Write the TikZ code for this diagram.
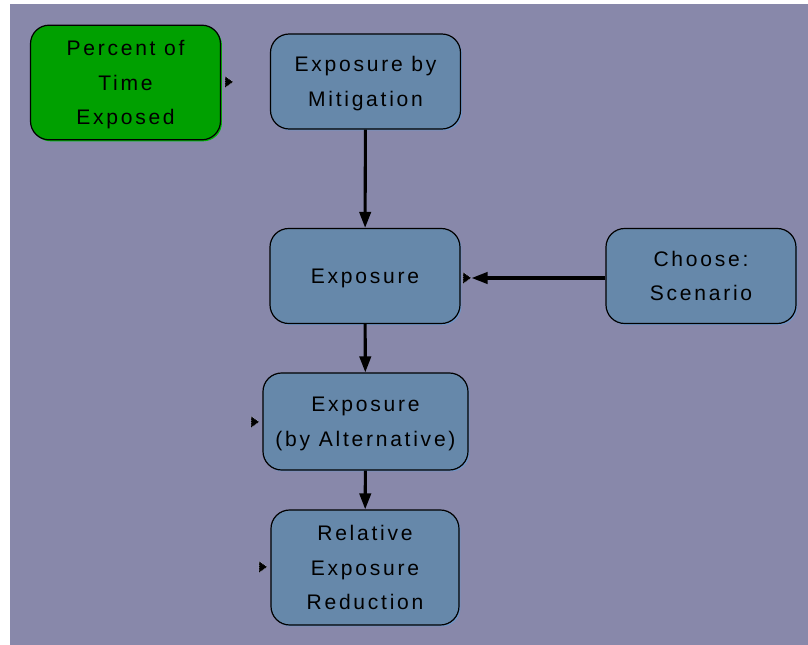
\documentclass[tikz,border=0pt]{standalone}
\usepackage{fontspec}
\setmainfont{Liberation Sans}
\usepackage{tikz}
\usetikzlibrary{shapes.geometric}
\usetikzlibrary{arrows.meta}
\usetikzlibrary{shadows}

\definecolor{panelbg}{RGB}{136,136,170}
\definecolor{boxblue}{RGB}{102,136,170}
\definecolor{boxblueshade}{RGB}{110,150,200}
\definecolor{boxgreen}{RGB}{0,160,0}
\definecolor{boxgreenshade}{RGB}{0,180,0}

\tikzset{
  expbox/.style={draw=black, line width=0.9pt, fill=boxblue, rounded corners=14pt,
    minimum width=142.5pt, minimum height=71.25pt, align=center, inner sep=2pt, text depth=0pt,
    font=\fontsize{15.8}{25.9}\selectfont\addfontfeature{LetterSpace=13},
    general shadow={fill=boxblueshade, shadow xshift=1.1pt, shadow yshift=-1.1pt}},
  greenbox/.style={expbox, fill=boxgreen,
    general shadow={fill=boxgreenshade, shadow xshift=1.1pt, shadow yshift=-1.1pt}},
  flow/.style={draw=black, line width=2.3pt, -{Triangle[length=12pt,width=8.5pt]}},
  flagmark/.style={isosceles triangle, isosceles triangle stretches, fill=black,
    draw=white, densely dotted, line width=0.3pt, inner sep=0pt,
    minimum width=8.5pt, minimum height=6pt}
}

\begin{document}
\begin{tikzpicture}[x=0.75pt,y=0.75pt,yscale=-1,xscale=1]
\useasboundingbox (0,0) rectangle (808,645);

%Background panel
\fill[panelbg] (10,4) rectangle (808,645);

%Boxes
\node[greenbox, minimum height=86pt] (pctTime) at (125.5,82.5) {Percent of\\Time\\Exposed};
\node[expbox] (expMit) at (365.5,81.5) {Exposure by\\Mitigation};
\node[expbox] (expo) at (365,276) {Exposure};
\node[expbox] (chooseScn) at (701,276) {Choose:\\Scenario};
\node[expbox, minimum width=153.75pt, minimum height=72.75pt] (expAlt) at (365.5,421.5) {Exposure\\(by Alternative)};
\node[expbox, minimum width=141pt, minimum height=86.25pt] (relRed) at (365,567.5) {Relative\\Exposure\\Reduction};

%Small input marks
\node[flagmark] (mkPct) at (228,82) {};
\node[flagmark] (mkExpo) at (466,278) {};
\node[flagmark] (mkAlt) at (254,422) {};
\node[flagmark] (mkRel) at (262,567) {};

%Arrows
\draw[flow] (expMit) -- (expo);
\draw[flow] (expo) -- (expAlt);
\draw[flow] (expAlt) -- (relRed);
\draw[flow] (chooseScn.west |- mkExpo) -- (mkExpo.east);

\end{tikzpicture}
\end{document}
